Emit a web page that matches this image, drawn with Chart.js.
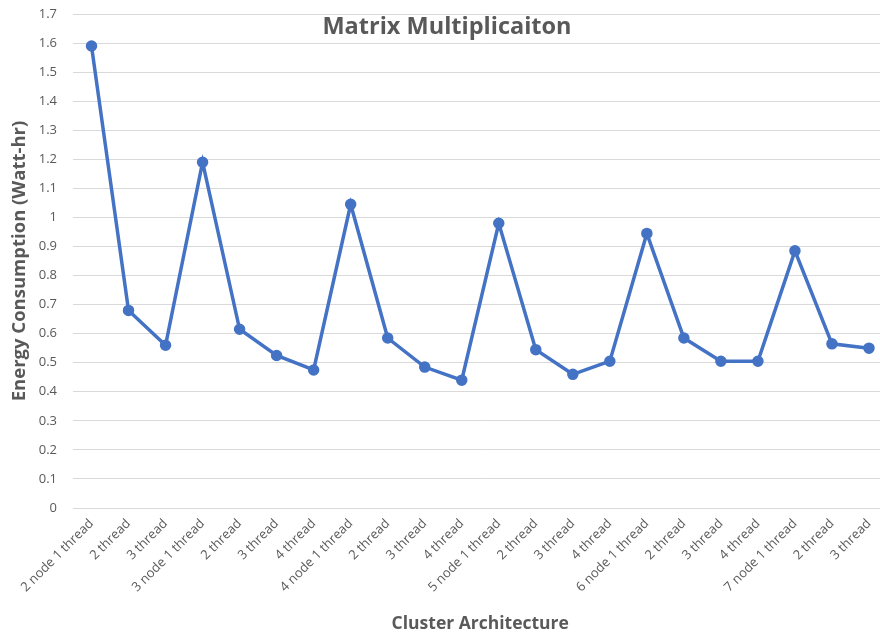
<!DOCTYPE html>
<html>
<head>
<meta charset="utf-8">
<title>Matrix Multiplicaiton</title>
<script src="https://cdn.jsdelivr.net/npm/chart.js@4/dist/chart.umd.min.js"></script>
<style>
  html, body { margin: 0; padding: 0; background: #ffffff; overflow: hidden; }
  #wrap { position: relative; width: 880px; height: 639px; overflow: hidden; }
  canvas { display: block; }
</style>
</head>
<body>
<div id="wrap"><canvas id="chart" width="895" height="639" style="width:895px;height:639px"></canvas></div>
<script>
// Cluster configurations (x axis)
const categories = [
  "2 node 1 thread", "2 thread", "3 thread",
  "3 node 1 thread", "2 thread", "3 thread", "4 thread",
  "4 node 1 thread", "2 thread", "3 thread", "4 thread",
  "5 node 1 thread", "2 thread", "3 thread", "4 thread",
  "6 node 1 thread", "2 thread", "3 thread", "4 thread",
  "7 node 1 thread", "2 thread", "3 thread"
];

// Energy consumption per configuration (Watt-hr)
const energy = [
  1.59, 0.68, 0.56,
  1.19, 0.615, 0.525, 0.475,
  1.045, 0.585, 0.485, 0.44,
  0.98, 0.545, 0.46, 0.505,
  0.945, 0.585, 0.505, 0.505,
  0.885, 0.565, 0.55
];

// Value axis ticks
const yTicks = [0, 0.1, 0.2, 0.3, 0.4, 0.5, 0.6, 0.7, 0.8, 0.9, 1, 1.1, 1.2, 1.3, 1.4, 1.5, 1.6, 1.7];

const chartTitle = "Matrix Multiplicaiton";
const xTitle = "Cluster Architecture";
const yTitle = "Energy Consumption (Watt-hr)";

const FONT = "'Open Sans', 'Noto Sans', sans-serif";
const TEXT = "#595959";
const GRID = "#d9d9d9";
const BLUE = "#4472c4";

// Title drawn inside the plot area, between the top gridlines
const insideTitle = {
  id: "insideTitle",
  afterDraw(chart) {
    const ctx = chart.ctx;
    ctx.save();
    ctx.font = "bold 23.5px " + FONT;
    ctx.fillStyle = TEXT;
    ctx.textAlign = "center";
    ctx.textBaseline = "middle";
    ctx.fillText(chartTitle, 447, 27);
    ctx.restore();
  }
};

new Chart(document.getElementById("chart"), {
  type: "line",
  data: {
    labels: categories,
    datasets: [{
      data: energy,
      borderColor: BLUE,
      backgroundColor: BLUE,
      borderWidth: 3.5,
      pointRadius: 4,
      pointHoverRadius: 4,
      pointBackgroundColor: BLUE,
      pointBorderColor: BLUE,
      tension: 0
    }]
  },
  options: {
    responsive: false,
    animation: false,
    layout: { padding: { top: 14, right: 4, left: 0, bottom: 0 } },
    plugins: {
      legend: { display: false },
      tooltip: { enabled: false }
    },
    scales: {
      x: {
        offset: true,
        grid: { display: false, drawTicks: false },
        border: { display: true, color: GRID, width: 1 },
        ticks: {
          color: TEXT,
          font: { family: FONT, size: 13 },
          minRotation: 45,
          maxRotation: 45,
          autoSkip: false,
          padding: 8
        },
        title: {
          display: true,
          text: xTitle,
          color: TEXT,
          font: { family: FONT, size: 17.5, weight: "bold" },
          padding: { top: 0, bottom: 4 }
        },
        afterFit(scale) { scale.height = 131; }
      },
      y: {
        min: 0,
        max: 1.7,
        afterBuildTicks(scale) { scale.ticks = yTicks.map(v => ({ value: v })); },
        grid: { color: GRID, lineWidth: 1, drawTicks: false },
        border: { display: false },
        ticks: {
          color: TEXT,
          font: { family: FONT, size: 13 },
          padding: 16,
          callback: v => String(Number(v.toFixed(1)))
        },
        title: {
          display: true,
          text: yTitle,
          color: TEXT,
          font: { family: FONT, size: 18.5, weight: "bold" },
          padding: { top: 9, bottom: 0 }
        },
        afterFit(scale) {
          scale.width = 73;
          scale.paddingTop = 0;
        }
      }
    }
  },
  plugins: [insideTitle]
});
</script>
</body>
</html>
